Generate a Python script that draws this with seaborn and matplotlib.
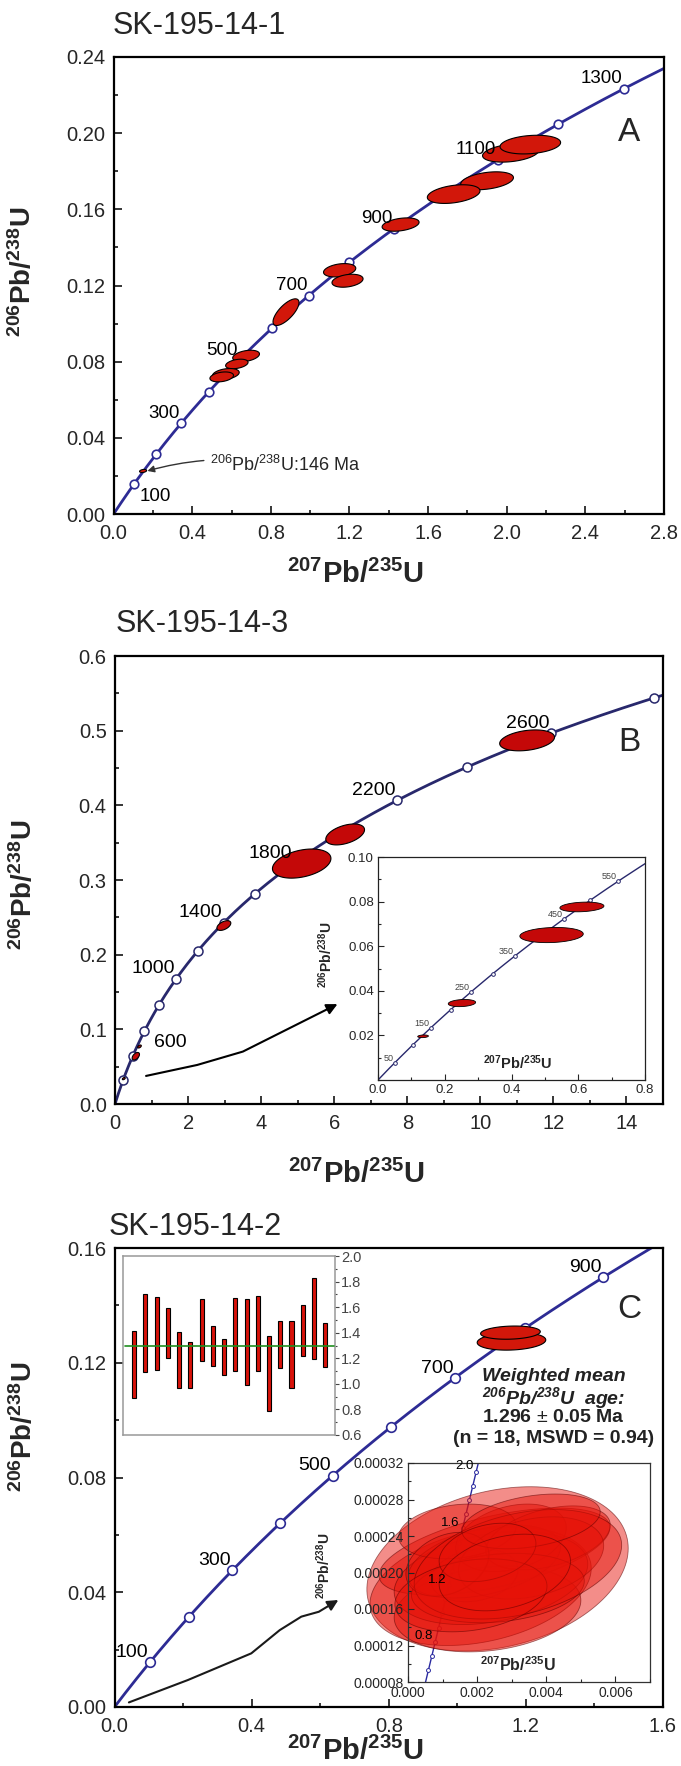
import numpy as np
import pandas as pd
import matplotlib
matplotlib.use("Agg")
import matplotlib.pyplot as plt
import seaborn as sns
from matplotlib.ticker import MultipleLocator
from matplotlib.path import Path
from matplotlib.patches import FancyArrowPatch

sns.set_style("ticks")
plt.rcParams['font.family'] = ['Liberation Sans', 'DejaVu Sans']
plt.rcParams['mathtext.fontset'] = 'custom'
plt.rcParams['mathtext.rm'] = 'Liberation Sans'
plt.rcParams['mathtext.it'] = 'Liberation Sans:italic'
plt.rcParams['mathtext.bf'] = 'Liberation Sans:bold'
plt.rcParams['mathtext.bfit'] = 'Liberation Sans:bold:italic'

# decay constants (1/Ma)
L238 = 1.55125e-4
L235 = 9.8485e-4

# ---- panel A : SK-195-14-1 ----
a_marker_ages = [100, 200, 300, 400, 500, 600, 700, 800, 900, 1000, 1100, 1200, 1300]
a_label_ages = [300, 500, 700, 900, 1100, 1300]
a_cx = [2.02, 2.12, 1.90, 1.73, 1.46, 1.15, 1.19, 0.877, 0.674, 0.627, 0.571, 0.550, 0.150]
a_cy = [0.1896, 0.1940, 0.1750, 0.1680, 0.1520, 0.1280, 0.1225, 0.1060, 0.0830, 0.0788, 0.0735, 0.0720, 0.0226]
a_sx = [0.143, 0.154, 0.134, 0.134, 0.094, 0.082, 0.079, 0.066, 0.068, 0.057, 0.068, 0.060, 0.018]
a_sy = [0.0048, 0.0049, 0.0047, 0.0049, 0.0035, 0.0035, 0.0034, 0.0070, 0.0030, 0.0025, 0.0029, 0.0026, 0.0008]
a_rho = [0.30, 0.22, 0.35, 0.35, 0.35, 0.30, 0.30, 0.72, 0.35, 0.35, 0.30, 0.30, 0.30]
a_xticks = [0.0, 0.4, 0.8, 1.2, 1.6, 2.0, 2.4, 2.8]
a_yticks = [0.00, 0.04, 0.08, 0.12, 0.16, 0.20, 0.24]

# ---- panel B : SK-195-14-3 ----
b_marker_ages = [200, 400, 600, 800, 1000, 1200, 1400, 1600, 1800, 2000, 2200, 2400, 2600, 2800]
b_label_ages = [1000, 1400, 1800, 2200, 2600]
b_cx = [11.28, 6.30, 5.11, 2.98, 0.57, 0.67, 0.24]
b_cy = [0.487, 0.361, 0.322, 0.239, 0.064, 0.077, 0.034]
b_sx = [0.75, 0.53, 0.80, 0.19, 0.10, 0.05, 0.04]
b_sy = [0.0140, 0.0140, 0.0195, 0.0065, 0.0050, 0.0020, 0.0015]
b_rho = [0.30, 0.45, 0.35, 0.50, 0.50, 0.50, 0.50]
b_xticks = [0, 2, 4, 6, 8, 10, 12, 14]
b_yticks = [0.0, 0.1, 0.2, 0.3, 0.4, 0.5, 0.6]

# inset of B (young grains)
bi_marker_ages = [50, 100, 150, 200, 250, 300, 350, 400, 450, 500, 550]
bi_label_ages = [50, 150, 250, 350, 450, 550]
bi_cx = [0.611, 0.520, 0.2515, 0.135]
bi_cy = [0.0776, 0.0650, 0.0345, 0.0196]
bi_sx = [0.066, 0.095, 0.041, 0.016]
bi_sy = [0.00217, 0.0034, 0.0016, 0.0006]
bi_rho = [0.20, 0.15, 0.20, 0.20]
bi_xticks = [0.0, 0.2, 0.4, 0.6, 0.8]
bi_yticks = [0.02, 0.04, 0.06, 0.08, 0.10]

# ---- panel C : SK-195-14-2 ----
c_marker_ages = [100, 200, 300, 400, 500, 600, 700, 800, 900]
c_label_ages = [100, 300, 500, 700, 900]
c_cx = [1.158, 1.155]
c_cy = [0.1275, 0.1305]
c_sx = [0.100, 0.087]
c_sy = [0.0031, 0.0023]
c_rho = [0.15, 0.15]
c_xticks = [0.0, 0.4, 0.8, 1.2, 1.6]
c_yticks = [0.00, 0.04, 0.08, 0.12, 0.16]

# weighted mean inset: 206Pb/238U ages (Ma), error bar low/high
spot = np.arange(1, 19)
age_low = [0.887, 1.094, 1.107, 1.204, 0.969, 0.971, 1.181, 1.139, 1.073,
           1.102, 0.992, 1.099, 0.791, 1.123, 0.966, 1.215, 1.196, 1.134]
age_high = [1.411, 1.704, 1.678, 1.594, 1.406, 1.330, 1.665, 1.453, 1.353,
            1.675, 1.660, 1.688, 1.377, 1.492, 1.492, 1.613, 1.830, 1.474]
mean_age = 1.296
ci_yticks = [0.6, 0.8, 1.0, 1.2, 1.4, 1.6, 1.8, 2.0]

# zoomed concordia of the young spots
ci2_marker_ages = [0.6, 0.7, 0.8, 0.9, 1.0, 1.1, 1.2, 1.3, 1.4, 1.5, 1.6, 1.7, 1.8, 1.9, 2.0]
ci2_label_ages = [0.8, 1.2, 1.6, 2.0]
ci2_cx = [0.00259, 0.00210, 0.00230, 0.00250, 0.00240, 0.00192, 0.00221, 0.00298, 0.00143,
          0.00405, 0.00356, 0.00260, 0.00114, 0.00318, 0.00182, 0.00356, 0.00230, 0.00280]
ci2_cy = [0.000204, 0.000185, 0.000160, 0.000223, 0.000194, 0.000197, 0.000212, 0.000238, 0.000245,
          0.000238, 0.000216, 0.000183, 0.000209, 0.000209, 0.000175, 0.000256, 0.000222, 0.000200]
ci2_sx = [0.00378, 0.00320, 0.00270, 0.00334, 0.00280, 0.00126, 0.00220, 0.00160, 0.00170,
          0.00180, 0.00210, 0.00250, 0.00120, 0.00300, 0.00220, 0.00200, 0.00140, 0.00190]
ci2_sy = [0.0000900, 0.0000650, 0.0000470, 0.0000476, 0.0000510, 0.0000290, 0.0000400, 0.0000370, 0.0000300,
          0.0000350, 0.0000450, 0.0000380, 0.0000350, 0.0000600, 0.0000400, 0.0000300, 0.0000320, 0.0000420]
ci2_rho = [0.25, 0.30, 0.20, 0.55, 0.30, 0.20, 0.40, 0.30, 0.20,
           0.40, 0.30, 0.20, 0.30, 0.35, 0.25, 0.35, 0.30, 0.30]
ci2_xticks = [0.000, 0.002, 0.004, 0.006]
ci2_yticks = [0.00008, 0.00012, 0.00016, 0.00020, 0.00024, 0.00028, 0.00032]

NAVY = '#2d2b94'
NAVY_B = '#28286c'
RED = '#d2170a'
RED_B = '#c40808'
LAB206 = r'$^{\mathbf{206}}$Pb/$^{\mathbf{238}}$U'
LAB207 = r'$^{\mathbf{207}}$Pb/$^{\mathbf{235}}$U'


def concordia(t):
    t = np.asarray(t, dtype=float)
    return np.expm1(L235 * t), np.expm1(L238 * t)


def draw_curve(ax, t0, t1, ages, color, s, lw, mlw, z=2):
    t = np.linspace(t0, t1, 800)
    x, y = concordia(t)
    sns.lineplot(x=x, y=y, sort=False, estimator=None, color=color, lw=lw, ax=ax, zorder=z)
    mx, my = concordia(ages)
    sns.scatterplot(x=mx, y=my, s=s, facecolor='white', edgecolor=color, linewidth=mlw,
                    ax=ax, zorder=z + 0.1)


def draw_ellipses(ax, cx, cy, sx, sy, rho, face, edge='black', lw=0.8, z=4, clip=True):
    t = np.linspace(0, 2 * np.pi, 150)
    for x0, y0, a, b, r in zip(cx, cy, sx, sy, rho):
        xs = x0 + a * np.cos(t)
        ys = y0 + b * (r * np.cos(t) + np.sqrt(1 - r * r) * np.sin(t))
        ax.fill(xs, ys, facecolor=face, edgecolor=edge, lw=lw, zorder=z, clip_on=clip)


def label_ages(ax, ages, fs, color='black', dx=-1, dy=1, ha='right', va='bottom', fmt='{:g}'):
    for a in ages:
        x, y = concordia(a)
        ax.annotate(fmt.format(a), xy=(x, y), xytext=(dx, dy), textcoords='offset points',
                    ha=ha, va=va, fontsize=fs, color=color, zorder=6)


def style_main(ax, xt, yt, xfmt, yfmt, xminor, yminor, xmax):
    ax.set_xticks(xt)
    ax.set_yticks(yt)
    ax.set_xticklabels([xfmt.format(v) for v in xt])
    ax.set_yticklabels([yfmt.format(v) for v in yt])
    ax.set_xlim(xt[0], xmax)
    ax.set_ylim(yt[0], yt[-1])
    ax.xaxis.set_minor_locator(MultipleLocator(xminor))
    ax.yaxis.set_minor_locator(MultipleLocator(yminor))
    ax.tick_params(which='both', direction='in', top=False, right=False, width=1.3)
    ax.tick_params(which='major', length=6, labelsize=14.5)
    ax.tick_params(axis='x', which='major', pad=7)
    ax.tick_params(axis='y', which='major', pad=6)
    ax.tick_params(which='minor', length=3)
    for s in ax.spines.values():
        s.set_linewidth(1.6)
        s.set_color('black')
    ax.set_xlabel(LAB207, fontsize=21, fontweight='bold')
    ax.set_ylabel(LAB206, fontsize=20, fontweight='bold')


W, H = 681, 1766
fig = plt.figure(figsize=(W / 100, H / 100), dpi=100)


def add_ax(l, t, r, b):
    return fig.add_axes([l / W, 1 - b / H, (r - l) / W, (b - t) / H])


axA = add_ax(113.6, 57, 664, 514)
axB = add_ax(115, 656, 663, 1104)
axC = add_ax(114.5, 1248, 663, 1707)

# ---------------- A ----------------
draw_curve(axA, 0, 1500, a_marker_ages, NAVY, 38, 2.0, 1.2)
draw_ellipses(axA, a_cx, a_cy, a_sx, a_sy, a_rho, RED)
label_ages(axA, a_label_ages, 13.5)
label_ages(axA, [100], 13.5, dx=4, dy=-3, ha='left', va='top')
style_main(axA, a_xticks, a_yticks, '{:.1f}', '{:.2f}', 0.2, 0.02, 2.8)
axA.xaxis.set_label_coords(0.44, -0.10)
axA.yaxis.set_label_coords(-0.14, 0.53)
axA.annotate(r'$^{206}$Pb/$^{238}$U:146 Ma', xy=(0.172, 0.0226), xytext=(0.49, 0.0257),
             fontsize=13, ha='left', va='center', zorder=6,
             arrowprops=dict(arrowstyle='-|>', color='#333333', lw=1.0,
                             connectionstyle='arc3,rad=0.12', shrinkA=2, shrinkB=0,
                             mutation_scale=10))
axA.text(0.936, 0.834, 'A', transform=axA.transAxes, fontsize=24, ha='center', va='center')
fig.text(113 / W, 1 - 26 / H, 'SK-195-14-1', fontsize=22, ha='left', va='center')

# ---------------- B ----------------
draw_curve(axB, 0, 3200, b_marker_ages, NAVY_B, 42, 2.0, 1.1)
draw_ellipses(axB, b_cx, b_cy, b_sx, b_sy, b_rho, RED_B)
label_ages(axB, b_label_ages, 14)
label_ages(axB, [600], 14, dx=7, dy=-2, ha='left', va='top')
style_main(axB, b_xticks, b_yticks, '{:d}', '{:.1f}', 1, 0.05, 15)
axB.xaxis.set_label_coords(0.44, -0.125)
axB.yaxis.set_label_coords(-0.14, 0.49)
axB.text(0.938, 0.808, 'B', transform=axB.transAxes, fontsize=24, ha='center', va='center')
fig.text(116 / W, 1 - 624 / H, 'SK-195-14-3', fontsize=22, ha='left', va='center')
b_arrow = [(0.85, 0.0376), (2.25, 0.0523), (3.5, 0.0702), (6.09, 0.1338)]
axB.add_patch(FancyArrowPatch(path=Path(b_arrow), arrowstyle='-|>', mutation_scale=16,
                              color='black', lw=1.5, zorder=6))

insB = add_ax(378, 857, 645, 1080)
draw_curve(insB, 0, 620, bi_marker_ages, NAVY_B, 7, 1.0, 0.7)
draw_ellipses(insB, bi_cx, bi_cy, bi_sx, bi_sy, bi_rho, RED_B, lw=0.6)
label_ages(insB, bi_label_ages, 6.5, color='#444444', dx=-1, dy=0)
insB.set_xlim(0, 0.8)
insB.set_ylim(0, 0.1)
insB.set_xticks(bi_xticks)
insB.set_xticklabels([f'{v:.1f}' for v in bi_xticks])
insB.set_yticks(bi_yticks)
insB.set_yticklabels([f'{v:.2f}' for v in bi_yticks])
insB.xaxis.set_minor_locator(MultipleLocator(0.1))
insB.yaxis.set_minor_locator(MultipleLocator(0.01))
insB.tick_params(which='both', direction='in', labelsize=9.5, width=0.8, pad=3)
insB.tick_params(which='major', length=4)
insB.tick_params(which='minor', length=2)
for s in insB.spines.values():
    s.set_linewidth(0.9)
    s.set_color('#222222')
insB.set_xlabel('')
insB.set_ylabel(LAB206, fontsize=10, fontweight='bold')
insB.yaxis.set_label_coords(-0.16, 0.56)
insB.text(0.524, 0.076, LAB207, transform=insB.transAxes, fontsize=10.5,
          fontweight='bold', ha='center', va='center')

# ---------------- C ----------------
draw_curve(axC, 0, 1100, c_marker_ages, NAVY, 48, 2.0, 1.2)
draw_ellipses(axC, c_cx, c_cy, c_sx, c_sy, c_rho, RED)
label_ages(axC, c_label_ages, 14)
style_main(axC, c_xticks, c_yticks, '{:.1f}', '{:.2f}', 0.2, 0.02, 1.6)
axC.xaxis.set_label_coords(0.44, -0.066)
axC.yaxis.set_label_coords(-0.14, 0.61)
axC.text(0.938, 0.865, 'C', transform=axC.transAxes, fontsize=24, ha='center', va='center')
fig.text(109 / W, 1 - 1227 / H, 'SK-195-14-2', fontsize=22, ha='left', va='center')
c_arrow = [(0.042, 0.0016), (0.214, 0.0094), (0.399, 0.0187), (0.482, 0.0268),
           (0.545, 0.0315), (0.596, 0.0332), (0.653, 0.0373)]
axC.add_patch(FancyArrowPatch(path=Path(c_arrow), arrowstyle='-|>', mutation_scale=16,
                              color='#1a1a1a', lw=1.5, zorder=6))
txt_kw = dict(transform=axC.transAxes, ha='center', va='center', fontsize=14,
              fontweight='bold', color='#222222')
axC.text(0.801, 0.719, 'Weighted mean', style='italic', **txt_kw)
axC.text(0.801, 0.673, r'$^{\mathbfit{206}}$Pb/$^{\mathbfit{238}}$U  age:', style='italic', **txt_kw)
axC.text(0.801, 0.630, f'{mean_age:.3f} $\\pm$ 0.05 Ma', **txt_kw)
axC.text(0.801, 0.584, '(n = 18, MSWD = 0.94)', **txt_kw)

# weighted-mean bar inset
insC1 = add_ax(123, 1256, 335, 1435)
insC1.bar(spot, np.array(age_high) - np.array(age_low), bottom=age_low, width=0.36,
          color='#d8120a', edgecolor='black', linewidth=0.8, zorder=3)
insC1.axhline(mean_age, xmin=0.01, xmax=0.995, color='#1f8f1f', lw=1.2, zorder=4)
insC1.set_xlim(0, 18.87)
insC1.set_ylim(0.6, 2.0)
insC1.set_xticks([])
insC1.yaxis.tick_right()
insC1.set_yticks(ci_yticks)
insC1.set_yticklabels([f'{v:.1f}' for v in ci_yticks])
insC1.yaxis.set_minor_locator(MultipleLocator(0.1))
insC1.tick_params(axis='y', which='both', direction='out', labelsize=10.5, colors='#444444',
                  width=0.8, pad=1.5)
insC1.tick_params(axis='y', which='major', length=3)
insC1.tick_params(axis='y', which='minor', length=1.5)
for s in insC1.spines.values():
    s.set_linewidth(1.1)
    s.set_color('#999999')

# zoomed concordia inset (ellipses under the tick labels, over the curve)
insC2 = add_ax(408, 1463, 650, 1682)
insC2.set_axisbelow(False)
draw_curve(insC2, 0.4, 2.3, ci2_marker_ages, '#2a2aa0', 8, 1.0, 0.7, z=1.5)
draw_ellipses(insC2, ci2_cx, ci2_cy, ci2_sx, ci2_sy, ci2_rho,
              face=(0.90, 0.07, 0.03, 0.48), edge=(0.35, 0.0, 0.0, 0.55), lw=0.6, z=2.2,
              clip=False)
label_ages(insC2, ci2_label_ages, 9.5, dx=-2, dy=4, ha='right', va='center', fmt='{:.1f}')
insC2.set_xlim(0, 0.007)
insC2.set_ylim(0.00008, 0.00032)
insC2.set_xticks(ci2_xticks)
insC2.set_xticklabels([f'{v:.3f}' for v in ci2_xticks])
insC2.set_yticks(ci2_yticks)
insC2.set_yticklabels([f'{v:.5f}' for v in ci2_yticks])
insC2.xaxis.set_minor_locator(MultipleLocator(0.001))
insC2.yaxis.set_minor_locator(MultipleLocator(0.00002))
insC2.tick_params(which='both', direction='in', labelsize=10, width=0.8, pad=3)
insC2.tick_params(which='major', length=4)
insC2.tick_params(which='minor', length=2)
for s in insC2.spines.values():
    s.set_linewidth(0.9)
    s.set_color('#333333')
insC2.set_xlabel('')
insC2.set_ylabel(LAB206, fontsize=10, fontweight='bold')
insC2.yaxis.set_label_coords(-0.31, 0.53)
insC2.text(0.455, 0.078, LAB207, transform=insC2.transAxes, fontsize=11.5,
           fontweight='bold', ha='center', va='center', zorder=7)

fig.savefig('out.png', dpi=100, facecolor='white')
